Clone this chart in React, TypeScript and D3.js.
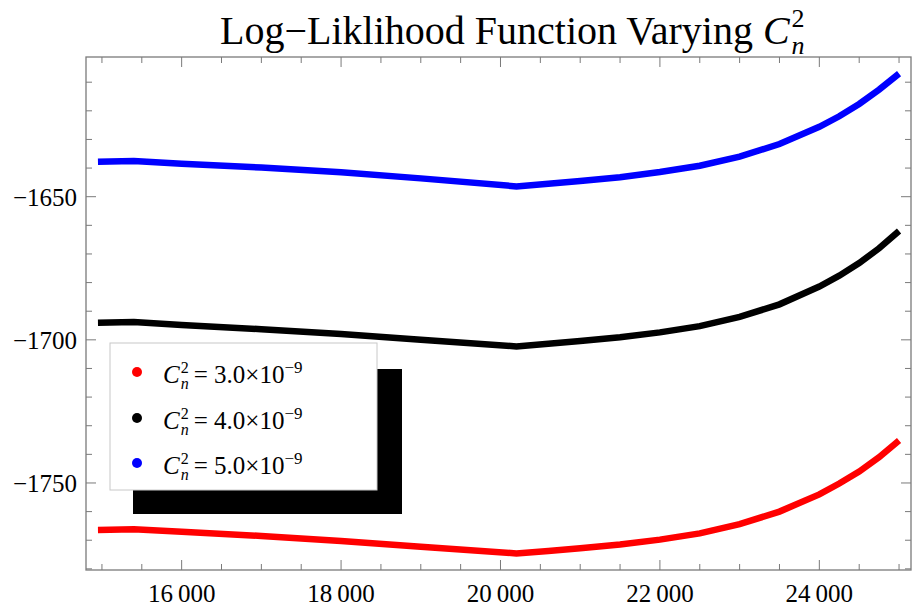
import React from "react";
import * as d3 from "d3";

const xValues = [14950, 15400, 16000, 17000, 18000, 19000, 20200, 20600, 21000, 21500, 22000, 22500, 23000, 23500, 24000, 24250, 24500, 24750, 25000];
const blueValues = [-1637.8, -1637.5, -1638.5, -1639.8, -1641.5, -1643.6, -1646.4, -1645.5, -1644.5, -1643.2, -1641.4, -1639.2, -1636.0, -1631.6, -1625.6, -1621.9, -1617.6, -1612.6, -1607.0];
const blackValues = [-1694.0, -1693.8, -1694.8, -1696.3, -1698.0, -1700.0, -1702.3, -1701.4, -1700.4, -1699.1, -1697.4, -1695.2, -1692.0, -1687.6, -1681.4, -1677.6, -1673.2, -1668.0, -1662.0];
const redValues = [-1766.4, -1766.2, -1767.0, -1768.5, -1770.3, -1772.3, -1774.6, -1773.8, -1772.8, -1771.5, -1769.8, -1767.6, -1764.4, -1760.0, -1754.0, -1750.2, -1746.0, -1741.0, -1735.2];

const xTickMajor = [16000, 18000, 20000, 22000, 24000];
const yTickMajor = [-1750, -1700, -1650];
const legendLabels = ["3.0", "4.0", "5.0"];
const seriesColors = ["#ff0000", "#000000", "#0000ff"];

const W = 915;
const H = 608;
const left = 86, right = 911, top = 57, bottom = 570;
const serif = "'Liberation Serif', 'Times New Roman', serif";

export default function App() {
  const x = d3.scaleLinear().domain([14800, 25150]).range([left, right]);
  const y = d3.scaleLinear().domain([-1780.4, -1601.2]).range([bottom, top]);

  const line = d3
    .line<number>()
    .x((_, i) => x(xValues[i]))
    .y((d) => y(d));

  const xMinor = d3.range(15000, 25001, 500).filter((v) => !xTickMajor.includes(v));
  const yMinor = d3.range(-1780, -1600, 10).filter((v) => !yTickMajor.includes(v) && v >= -1780.4 && v <= -1601.2);

  const series = [redValues, blackValues, blueValues];
  const frameColor = "#7a7a7a";

  const fmt = (v: number) => {
    const s = Math.abs(v).toString();
    const withSep = s.length > 4 ? s.slice(0, s.length - 3) + "\u2009" + s.slice(-3) : s;
    return (v < 0 ? "\u2212" : "") + withSep;
  };

  const legendY = [372, 418, 463];

  return (
    <svg width={W} height={H} style={{ position: "absolute", left: 0, top: 0, background: "#fff" }}>
      <rect x={0} y={0} width={W} height={H} fill="#fff" />
      <defs>
        <clipPath id="plotclip">
          <rect x={left} y={top} width={right - left} height={bottom - top} />
        </clipPath>
      </defs>
      {/* title */}
      <text x={220} y={44} fontFamily={serif} fontSize={40} fill="#000">
        Log{"\u2212"}Liklihood Function Varying{" "}
        <tspan fontStyle="italic">C</tspan>
        <tspan dx={2} dy={-17} fontSize={26}>2</tspan>
        <tspan dx={-13} dy={27} fontSize={26} fontStyle="italic">n</tspan>
      </text>

      {/* curves */}
      <g clipPath="url(#plotclip)">
        {series.map((s, i) => (
          <path key={i} d={line(s) || ""} fill="none" stroke={seriesColors[i]} strokeWidth={6.5} strokeLinejoin="miter" />
        ))}
      </g>

      {/* frame */}
      <rect x={left} y={top} width={right - left} height={bottom - top} fill="none" stroke={frameColor} strokeWidth={1.3} />

      {/* x ticks */}
      {xTickMajor.map((v) => (
        <g key={"xm" + v}>
          <line x1={x(v)} x2={x(v)} y1={bottom} y2={bottom - 10} stroke={frameColor} strokeWidth={1} />
          <line x1={x(v)} x2={x(v)} y1={top} y2={top + 10} stroke={frameColor} strokeWidth={1} />
          <text x={x(v)} y={602} textAnchor="middle" fontFamily={serif} fontSize={25} fill="#000">
            {fmt(v)}
          </text>
        </g>
      ))}
      {xMinor.map((v) => (
        <g key={"xn" + v}>
          <line x1={x(v)} x2={x(v)} y1={bottom} y2={bottom - 6} stroke={frameColor} strokeWidth={1} />
          <line x1={x(v)} x2={x(v)} y1={top} y2={top + 6} stroke={frameColor} strokeWidth={1} />
        </g>
      ))}

      {/* y ticks */}
      {yTickMajor.map((v) => (
        <g key={"ym" + v}>
          <line x1={left} x2={left + 10} y1={y(v)} y2={y(v)} stroke={frameColor} strokeWidth={1} />
          <line x1={right} x2={right - 10} y1={y(v)} y2={y(v)} stroke={frameColor} strokeWidth={1} />
          <text x={77} y={y(v) + 9} textAnchor="end" fontFamily={serif} fontSize={25} fill="#000">
            {fmt(v)}
          </text>
        </g>
      ))}
      {yMinor.map((v) => (
        <g key={"yn" + v}>
          <line x1={left} x2={left + 6} y1={y(v)} y2={y(v)} stroke={frameColor} strokeWidth={1} />
          <line x1={right} x2={right - 6} y1={y(v)} y2={y(v)} stroke={frameColor} strokeWidth={1} />
        </g>
      ))}

      {/* legend */}
      <rect x={133} y={369} width={269} height={145} fill="#000" />
      <rect x={110} y={343} width={267} height={147} fill="#fff" stroke="#c8c8c8" strokeWidth={1} />
      {legendLabels.map((lab, i) => (
        <g key={"lg" + i}>
          <circle cx={137} cy={legendY[i]} r={5} fill={seriesColors[i]} />
          <text x={163} y={legendY[i] + 11} fontFamily={serif} fontSize={25} fill="#000">
            <tspan fontStyle="italic">C</tspan>
            <tspan dx={1} dy={-10} fontSize={16}>2</tspan>
            <tspan dx={-8} dy={16} fontSize={16} fontStyle="italic">n</tspan>
            <tspan dx={5} dy={-6}>= {lab}×10</tspan>
            <tspan dy={-10} fontSize={17}>{"\u2212"}9</tspan>
          </text>
        </g>
      ))}
    </svg>
  );
}
